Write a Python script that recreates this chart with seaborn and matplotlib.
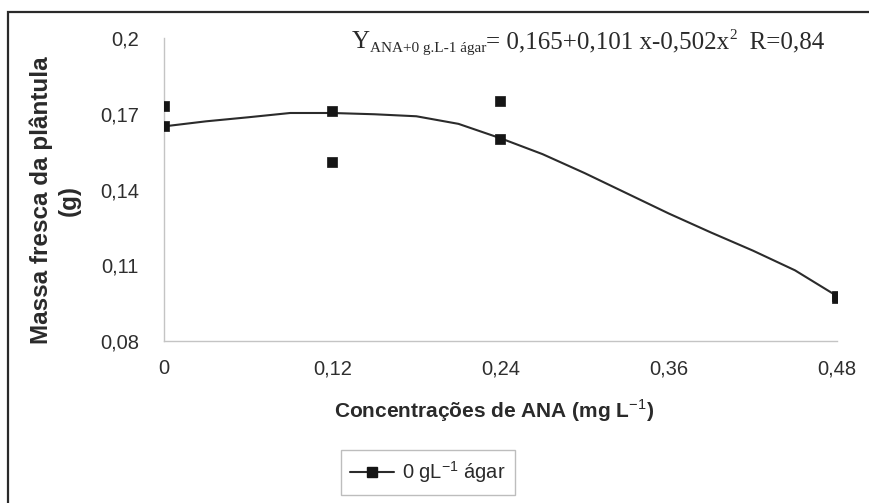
import matplotlib
matplotlib.use("Agg")
import matplotlib.pyplot as plt
import seaborn as sns
import pandas as pd
from matplotlib.lines import Line2D
from matplotlib.patches import Rectangle

# ---- data ----
obs_x = [0.0, 0.0, 0.12, 0.12, 0.24, 0.24, 0.48, 0.48]
obs_y = [0.173, 0.165, 0.171, 0.151, 0.175, 0.160, 0.098, 0.097]

curve_x = [0.0, 0.03, 0.06, 0.09, 0.12, 0.15, 0.18, 0.21, 0.24, 0.27,
           0.30, 0.33, 0.36, 0.39, 0.42, 0.45, 0.48]
curve_y = [0.165, 0.1670, 0.1686, 0.1703, 0.1703, 0.1698, 0.1690, 0.1660,
           0.1603, 0.1540, 0.1465, 0.1385, 0.1305, 0.1230, 0.1158, 0.1080, 0.0978]

x_ticks = [0.0, 0.12, 0.24, 0.36, 0.48]
x_tick_labels = ["0", "0,12", "0,24", "0,36", "0,48"]
y_ticks = [0.08, 0.11, 0.14, 0.17, 0.20]
y_tick_labels = ["0,08", "0,11", "0,14", "0,17", "0,2"]

series_label = "0 gL$^{-1}$ ágar"
x_title = "Concentrações de ANA (mg L$^{-1}$)"
y_title = "Massa fresca da plântula\n(g)"

sns.set_style("white")
plt.rcParams["font.family"] = ["Liberation Sans", "DejaVu Sans"]
plt.rcParams["mathtext.fontset"] = "custom"
plt.rcParams["mathtext.rm"] = "Liberation Sans"
plt.rcParams["mathtext.bf"] = "Liberation Sans:bold"

W, H = 870, 503
fig = plt.figure(figsize=(W / 100, H / 100), dpi=100)
ax = fig.add_axes([164 / W, 1 - 341 / H, (837 - 164) / W, (341 - 38) / H])

df_curve = pd.DataFrame({"x": curve_x, "y": curve_y})
df_obs = pd.DataFrame({"x": obs_x, "y": obs_y})

sns.lineplot(data=df_curve, x="x", y="y", ax=ax, color="#2b2b2b",
             linewidth=1.5, sort=False)
sns.scatterplot(data=df_obs, x="x", y="y", ax=ax, marker="s", s=60,
                color="#151515", edgecolor="#151515", linewidth=0.5, zorder=5)

ax.set_xlim(0, 0.48)
ax.set_ylim(0.08, 0.20)
ax.set_xticks(x_ticks)
ax.set_xticklabels(x_tick_labels)
ax.set_yticks(y_ticks)
ax.set_yticklabels(y_tick_labels)
ax.set_xlabel("")
ax.set_ylabel("")
for s in ["top", "right"]:
    ax.spines[s].set_visible(False)
for s in ["left", "bottom"]:
    ax.spines[s].set_color("#c4c4c4")
    ax.spines[s].set_linewidth(1.0)
ax.tick_params(axis="both", direction="out", color="#c4c4c4", labelcolor="#2e2e2e",
               labelsize=14.5)
ax.tick_params(axis="x", length=5, pad=8)
ax.tick_params(axis="y", length=6, pad=12)
ax.patch.set_alpha(0)

# axis titles
fig.text(55 / W, 1 - 200 / H, y_title, rotation=90, ha="center", va="center",
         fontsize=17.5, fontweight="bold", color="#2a2a2a", multialignment="center",
         linespacing=1.25)
fig.text(494 / W, 1 - 411 / H, x_title, ha="center", va="center",
         fontsize=15, fontweight="bold", color="#2a2a2a")

# regression equation, built from pieces
fig.canvas.draw()
renderer = fig.canvas.get_renderer()
serif = ["Liberation Serif", "DejaVu Serif"]
pieces = [
    ("Y", 18, 0),
    ("ANA+0 g.L-1 ágar", 11, -4),
    ("= 0,165+0,101 x-0,502x", 18, 0),
    ("2", 11, 9),
    ("  R=0,84", 18, 0),
]
cur_x = 352
base_y = H - 48
for txt, size, dy in pieces:
    t = fig.text(cur_x / W, (base_y + dy) / H, txt, fontsize=size, family=serif,
                 ha="left", va="baseline", color="#2a2a2a")
    bb = t.get_window_extent(renderer=renderer)
    cur_x = bb.x1

# legend
handle = Line2D([0], [0], color="#2b2b2b", linewidth=1.5, marker="s",
                markersize=7.5, markerfacecolor="#151515", markeredgecolor="#151515")
leg = fig.legend([handle], [series_label], loc="center",
                 bbox_to_anchor=(428 / W, 1 - 472.5 / H), frameon=True,
                 fancybox=False, framealpha=1, edgecolor="#bdbdbd",
                 fontsize=14.5, handlelength=2.2, handletextpad=0.4,
                 borderpad=0.45, borderaxespad=0)
leg.get_frame().set_linewidth(1.0)
for t in leg.get_texts():
    t.set_color("#2a2a2a")

# outer frame of the figure
fig.patches.append(Rectangle((8 / W, -0.2), 2.0, 1.2 - 12 / H, transform=fig.transFigure,
                             fill=False, edgecolor="#2a2a2a", linewidth=1.6))

fig.savefig("out.png", dpi=100)
